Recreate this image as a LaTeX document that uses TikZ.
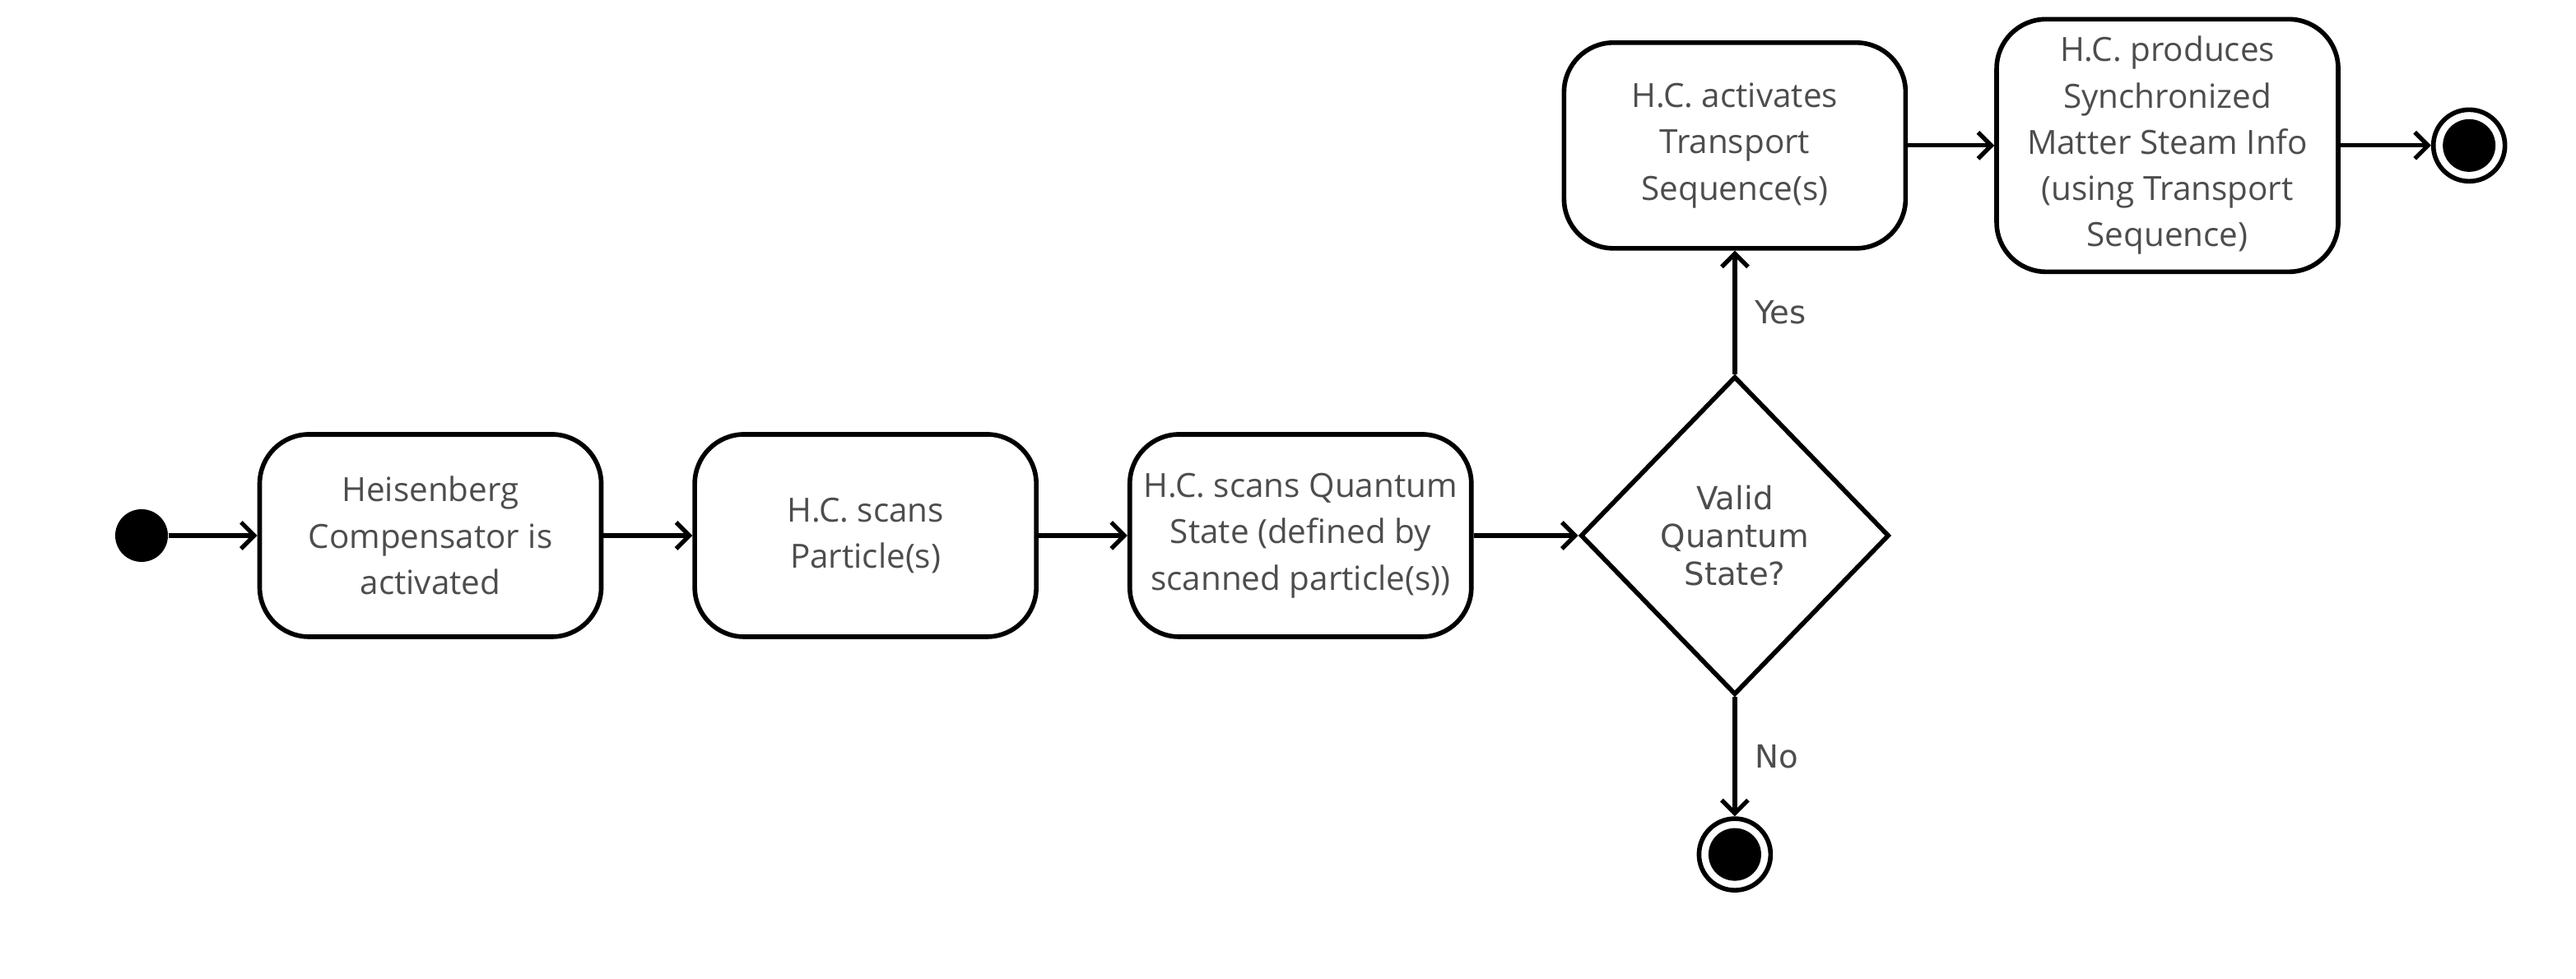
\documentclass[tikz,border=0pt]{standalone}
\usepackage{fontspec}
\setmainfont{Open Sans}
\newfontfamily\decfont{DejaVu Sans}
\usepackage{tikz}
\usepackage{xcolor}
\usetikzlibrary{shapes.geometric, arrows.meta, positioning, calc}

\definecolor{labelgray}{HTML}{4D4D4D}

\begin{document}
\begin{tikzpicture}[node distance=1.08cm,
  action/.style={draw, line width=1.6pt, rounded corners=0.6cm, fill=white,
    minimum width=4.15cm, minimum height=2.46cm, align=center,
    text=labelgray, font=\fontsize{11.5}{16}\selectfont},
  decision/.style={draw, diamond, line width=1.6pt, minimum width=3.75cm,
    minimum height=3.87cm, inner sep=0pt, align=center, text=labelgray,
    font=\decfont\fontsize{11}{13}\selectfont},
  initstate/.style={circle, fill=black, minimum size=0.64cm, inner sep=0pt},
  finalstate/.style={circle, draw, line width=1.6pt, fill=white, minimum size=0.87cm,
    inner sep=0pt, path picture={\fill[black] (path picture bounding box.center) circle (0.32cm);}},
  flow/.style={line width=1.5pt, -{Straight Barb[length=1.6mm, width=3.2mm]}},
  guard/.style={text=labelgray, font=\decfont\fontsize{11}{13}\selectfont}]
\useasboundingbox (0,0) rectangle (31.3,11.9);

% Main row
\node[initstate] (start) at (1.72,5.39) {};
\node[action, right=of start] (activate) {Heisenberg\\Compensator is\\activated};
\node[action, right=of activate] (particles) {H.C. scans\\Particle(s)};
\node[action, right=of particles] (qstate) {H.C. scans Quantum\\State (defined by\\scanned particle(s))};
\node[decision, right=1.27cm of qstate] (valid) {Valid\\Quantum\\State?};

% Yes branch
\node[action, minimum height=2.5cm, above=1.5cm of valid] (transport) {H.C. activates\\Transport\\Sequence(s)};
\node[action, minimum height=3.07cm, right=1.05cm of transport] (stream) {H.C. produces\\Synchronized\\Matter Steam Info\\(using Transport\\Sequence)};
\node[finalstate, right=1.1cm of stream] (done) {};

% No branch
\node[finalstate, below=1.45cm of valid] (abort) {};

% Arrows
\draw[flow] (start) -- (activate);
\draw[flow] (activate) -- (particles);
\draw[flow] (particles) -- (qstate);
\draw[flow] (qstate) -- (valid);
\draw[flow] (valid) -- node[guard, right=1mm] {Yes} (transport);
\draw[flow] (transport) -- (stream);
\draw[flow] (stream) -- (done);
\draw[flow] (valid) -- node[guard, right=1mm] {No} (abort);
\end{tikzpicture}
\end{document}
